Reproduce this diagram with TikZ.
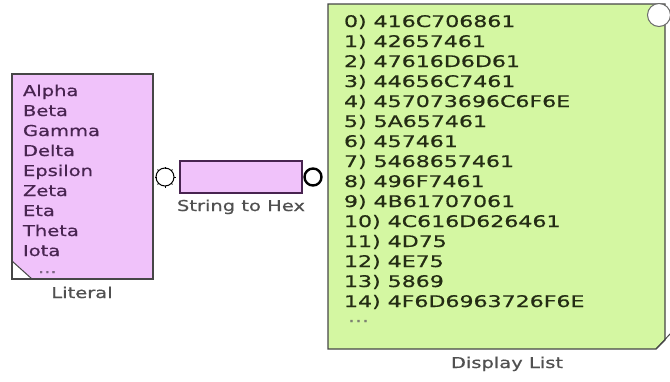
\documentclass[tikz,border=0pt]{standalone}
\usepackage{fontspec}
\usetikzlibrary{calc}
\setmainfont{DejaVu Sans}
\newfontfamily\litfont{DejaVu Sans}[FakeStretch=1.3,FakeBold=0.6]
\newfontfamily\dispfont{DejaVu Sans}[FakeStretch=1.38,FakeBold=0.6]
\definecolor{pinkfill}{RGB}{240,194,250}
\definecolor{greenfill}{RGB}{212,247,162}
\definecolor{littext}{RGB}{72,36,80}
\definecolor{disptext}{RGB}{36,44,20}
\definecolor{labeltext}{RGB}{80,80,80}
\definecolor{boxline}{RGB}{70,70,70}
\begin{document}
\begin{tikzpicture}[x=1pt,y=-1pt,
  txt/.style={anchor=base west,inner sep=0pt,outer sep=0pt},
  lit/.style={txt,font=\litfont\fontsize{15}{18}\selectfont,text=littext},
  disp/.style={txt,font=\dispfont\fontsize{16}{18}\selectfont,text=disptext},
  dots/.style={text height=2pt,text depth=0pt},
  lbl/.style={anchor=base,inner sep=0pt,font=\litfont\fontsize{15}{18}\selectfont,text=labeltext},
  blockbox/.style={draw=boxline,line width=1.1pt,anchor=north west,inner sep=0pt,outer sep=0pt}]
\useasboundingbox (0,0) rectangle (670,381);

% Literal block
\node[blockbox,fill=pinkfill,minimum width=141pt,minimum height=205pt] (literal) at (12,74) {};
\fill[white] (12,261) -- (32,279) -- (12,279) -- cycle;
\draw[boxline,line width=1pt] (12,261) -- (32,279);
\draw[boxline,line width=1.1pt] (literal.north west) rectangle (literal.south east);
\foreach \t [count=\i from 0] in {Alpha,Beta,Gamma,Delta,Epsilon,Zeta,Eta,Theta,Iota}
  \node[lit] (lit\i) at (23,{96+20*\i}) {\t};
\node[lit,dots,text=littext!70] (litdots) at (38,273) {...};
\node[lbl] (litlabel) at (82,298) {Literal};

% String to Hex block
\node[blockbox,draw=littext,fill=pinkfill,minimum width=122pt,minimum height=32pt] (hex) at (180,161) {};
\node[draw=black,fill=white,circle,line width=1pt,minimum size=18pt,inner sep=0pt] (hexin) at (165,177) {};
\foreach \a in {0,45,...,315}
  \draw[black,line width=1pt] ($(hexin.center)+(\a:8.5pt)$) -- ($(hexin.center)+(\a:10.5pt)$);
\node[draw=black,fill=white,circle,line width=2.4pt,minimum size=17pt,inner sep=0pt] (hexout) at (313,177) {};
\node[lbl] (hexlabel) at (241,211) {String to Hex};

% Display List block
\fill[greenfill] (328,4) -- (665,4) -- (665,340) -- (656,349) -- (328,349) -- cycle;
\draw[boxline,line width=1.1pt] (328,4) -- (665,4) -- (665,340) -- (656,349) -- (328,349) -- cycle;
\draw[boxline,line width=1pt] (656,349) -- (671,333);
\node[draw=boxline!80,fill=white,circle,line width=1pt,minimum size=23pt,inner sep=0pt] (dispin) at (659,15) {};
\coordinate (display) at (496,176);
\foreach \t [count=\i from 0] in {416C706861,42657461,47616D6D61,44656C7461,457073696C6F6E,5A657461,457461,5468657461,496F7461,4B61707061,4C616D626461,4D75,4E75,5869,4F6D6963726F6E}
  \node[disp] (d\i) at (344,{27+20*\i}) {\i) \t};
\node[disp,dots,text=disptext!60] (ddots) at (348,322) {...};
\node[lbl] (displabel) at (507,368) {Display List};
\end{tikzpicture}
\end{document}
